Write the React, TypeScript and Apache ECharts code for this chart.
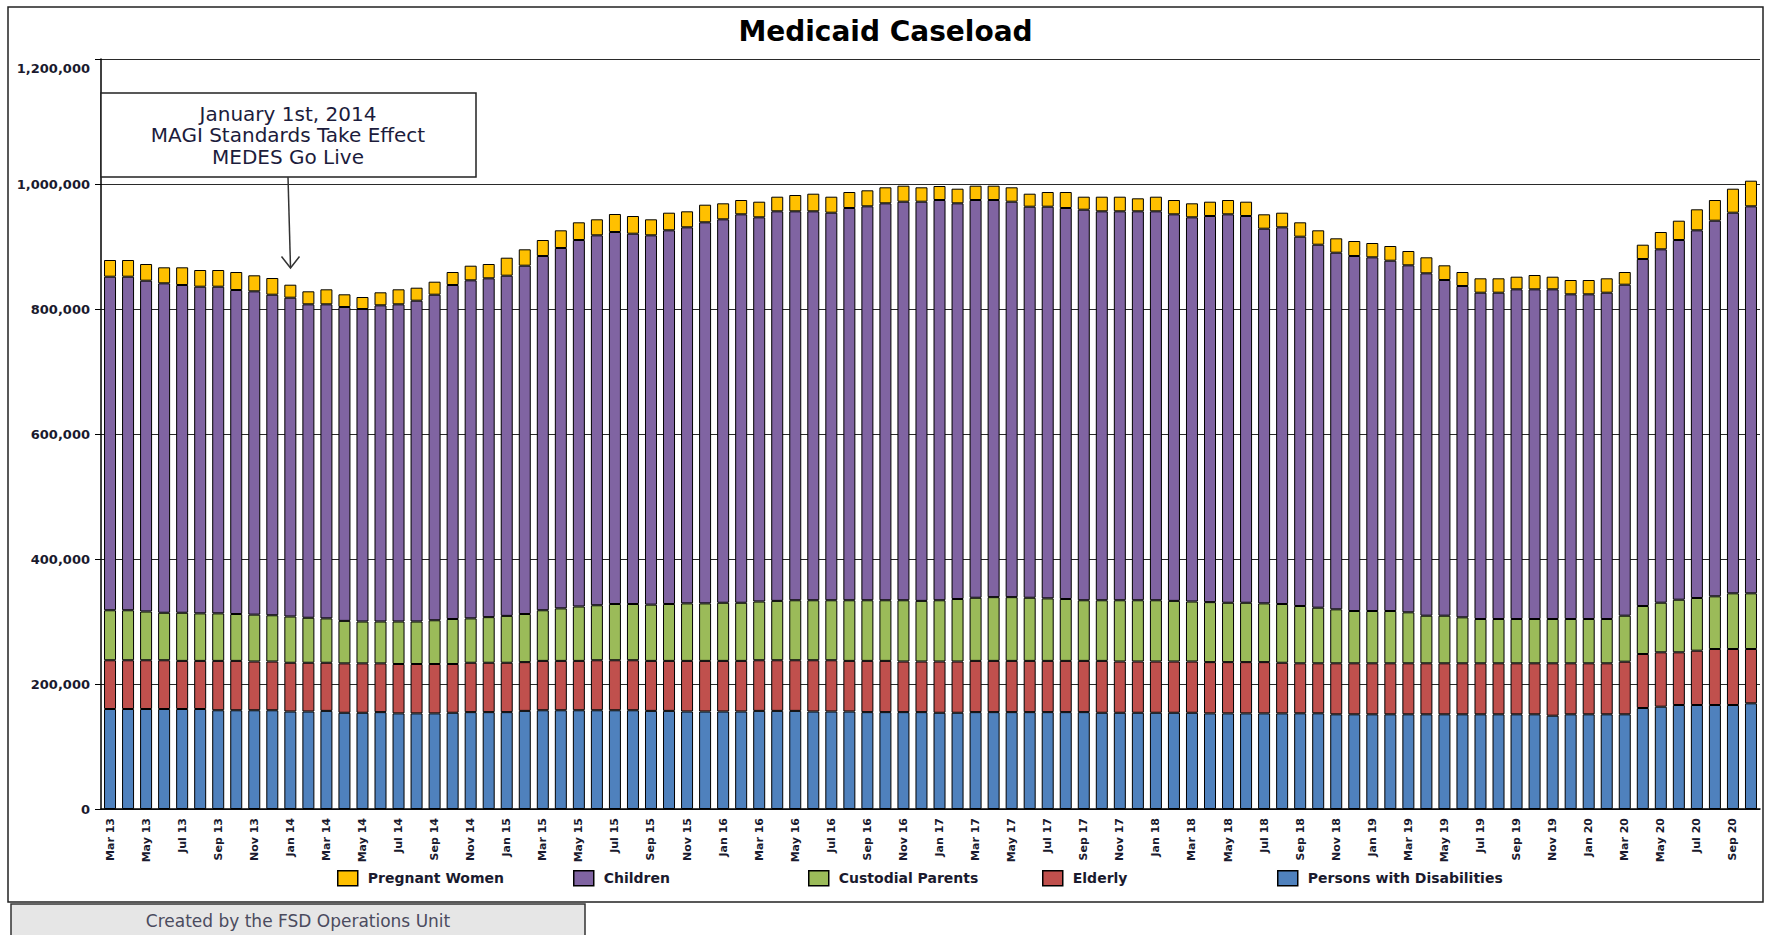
import React, { useEffect, useRef } from "react";
import * as echarts from "echarts";

const months = [
  "Mar 13","Apr 13","May 13","Jun 13","Jul 13","Aug 13","Sep 13","Oct 13","Nov 13","Dec 13",
  "Jan 14","Feb 14","Mar 14","Apr 14","May 14","Jun 14","Jul 14","Aug 14","Sep 14","Oct 14","Nov 14","Dec 14",
  "Jan 15","Feb 15","Mar 15","Apr 15","May 15","Jun 15","Jul 15","Aug 15","Sep 15","Oct 15","Nov 15","Dec 15",
  "Jan 16","Feb 16","Mar 16","Apr 16","May 16","Jun 16","Jul 16","Aug 16","Sep 16","Oct 16","Nov 16","Dec 16",
  "Jan 17","Feb 17","Mar 17","Apr 17","May 17","Jun 17","Jul 17","Aug 17","Sep 17","Oct 17","Nov 17","Dec 17",
  "Jan 18","Feb 18","Mar 18","Apr 18","May 18","Jun 18","Jul 18","Aug 18","Sep 18","Oct 18","Nov 18","Dec 18",
  "Jan 19","Feb 19","Mar 19","Apr 19","May 19","Jun 19","Jul 19","Aug 19","Sep 19","Oct 19","Nov 19","Dec 19",
  "Jan 20","Feb 20","Mar 20","Apr 20","May 20","Jun 20","Jul 20","Aug 20","Sep 20","Oct 20"
];

const disabilities = [
  160000,160000,160000,160000,160000,160000,158000,158000,158000,158000,
  156000,156000,157000,154000,154000,155000,153000,153000,153000,154000,155000,155000,
  155000,157000,158000,158000,158000,158000,158000,158000,157000,157000,156000,156000,
  156000,156000,157000,157000,157000,156000,156000,156000,155000,155000,155000,155000,
  154000,154000,155000,155000,155000,155000,155000,155000,155000,154000,154000,154000,
  154000,154000,154000,153000,153000,153000,153000,153000,153100,153100,151500,151500,
  151500,151500,151500,151500,151500,151500,151500,151500,151500,151500,149300,151500,
  151500,151500,151500,161600,163700,166400,166400,166400,166400,169100
];

const elderly = [
  78000,78000,78000,78000,77000,77000,79000,79000,78000,78000,
  78000,78000,77000,79000,79000,78000,79000,79000,79000,78000,79000,79000,
  79000,78000,79000,79000,79000,80000,80000,80000,80000,80000,81000,81000,
  81000,81000,81000,81000,81000,82000,82000,81000,82000,82000,81000,81000,
  82000,82000,82000,82000,82000,82000,82000,82000,82000,83000,82000,82000,
  82000,82000,82000,82000,82000,82000,82000,81000,80000,80000,81600,81600,
  81600,81600,81600,81600,81600,81600,81600,81600,81600,81600,83800,81600,
  81600,81600,84200,86400,87000,84300,86900,89600,89600,86900
];

const custodialParents = [
  80000,80000,78000,76000,77000,76000,76000,75000,75000,74000,
  74000,72000,71000,68000,67000,67000,68000,68000,70000,72000,71000,73000,
  75000,77000,81000,84000,87000,88000,90000,90000,90000,91000,92000,92000,
  93000,93000,94000,95000,96000,96000,96000,97000,97000,97000,98000,97000,
  98000,100000,101000,102000,102000,101000,100000,99000,97000,97000,98000,98000,
  98000,97000,96000,96000,95000,95000,94000,94000,91700,89000,86400,83700,
  83700,83700,81600,76200,76200,73600,70900,70900,70900,70900,70900,70900,
  70900,70900,73600,76800,79400,84200,84300,84300,89100,89100
];

const children = [
  533700,533700,529300,527100,524400,522700,522700,518400,517300,512900,
  510100,501500,502500,502200,500000,505900,507500,513300,520900,534400,540900,542100,
  544300,557300,566800,576600,586400,591900,595200,592500,590900,597900,601700,609700,
  613500,621500,614700,623300,622300,622300,620100,627600,630300,635100,637700,638700,
  640400,633100,636400,635400,632700,625700,626700,625600,624900,622300,622300,622300,
  622300,618500,614700,617800,621500,618800,599500,602700,590900,580800,570600,568000,
  565900,560500,555200,547800,537100,530100,522100,522100,527500,527500,527500,519500,
  519500,522100,529600,555200,565400,575500,588300,601000,609000,619200
];

const pregnantWomen = [
  26700,26700,26700,25600,28300,26700,26700,28800,25600,26700,
  20800,20800,24000,20300,19200,20800,24000,20800,20800,20800,23400,22900,
  28800,26200,25600,28300,28300,25600,28800,28300,25600,28200,25600,28200,
  25600,22900,25000,23400,26100,28200,25600,25600,25600,25600,25600,23000,
  22400,23400,22900,22900,23000,20800,23500,25600,20800,23400,23400,20800,
  23400,22900,22400,22900,22900,22900,23000,23400,23000,23000,23000,24000,
  22900,23500,22900,25600,23500,22400,23000,23000,20200,22900,20200,22900,
  22900,23000,20300,22900,27700,30900,33600,33100,38400,41000
];

const yTicks = { min: 0, max: 1200000, interval: 200000 };

const seriesDefs = [
  { name: "Persons with Disabilities", data: disabilities, color: "#4F81BD" },
  { name: "Elderly", data: elderly, color: "#C0504D" },
  { name: "Custodial Parents", data: custodialParents, color: "#9BBB59" },
  { name: "Children", data: children, color: "#8064A2" },
  { name: "Pregnant Women", data: pregnantWomen, color: "#FFC000" },
];

const legendOrder = ["Pregnant Women", "Children", "Custodial Parents", "Elderly", "Persons with Disabilities"];
const legendLeft = [337, 573, 808, 1042, 1277];

const FONT = "'DejaVu Sans', Verdana, sans-serif";
const TXT = "#1a1a2e";

export default function App() {
  const ref = useRef<HTMLDivElement>(null);
  useEffect(() => {
    if (!ref.current) return;
    const chart = echarts.init(ref.current, null, { renderer: "svg" });
    const fmt = (v: number) => v.toLocaleString("en-US");
    chart.setOption({
      animation: false,
      backgroundColor: "#ffffff",
      title: {
        text: "Medicaid Caseload",
        left: "center",
        top: 17,
        padding: 0,
        textStyle: { fontFamily: FONT, fontSize: 28, fontWeight: "bold", color: "#000" },
      },
      grid: { left: 101, right: 11, top: 59, bottom: 126, containLabel: false },
      legend: legendOrder.map((name, i) => ({
        data: [name],
        left: legendLeft[i],
        top: 870,
        padding: 0,
        icon: "rect",
        itemWidth: 20,
        itemHeight: 15,
        itemStyle: { borderColor: "#000", borderWidth: 1.5 },
        textStyle: { fontFamily: FONT, fontSize: 14, fontWeight: "bold", color: TXT, padding: [0, 0, 0, 5] },
        selectedMode: false,
      })),
      xAxis: {
        type: "category",
        data: months,
        axisLine: { lineStyle: { color: "#000", width: 1.5 } },
        axisTick: { show: false },
        axisLabel: {
          rotate: 90,
          interval: 1,
          margin: 9,
          fontFamily: FONT,
          fontSize: 11,
          fontWeight: "bold",
          color: TXT,
        },
      },
      yAxis: {
        type: "value",
        min: yTicks.min,
        max: yTicks.max,
        interval: yTicks.interval,
        axisLine: { show: true, lineStyle: { color: "#000", width: 1.5 } },
        axisTick: { show: true, length: 6, lineStyle: { color: "#000" } },
        splitLine: { lineStyle: { color: "#2a2a2a", width: 1 } },
        axisLabel: {
          margin: 11,
          fontFamily: FONT,
          fontSize: 13,
          fontWeight: "bold",
          color: TXT,
          formatter: (v: number) => (v === yTicks.max ? "{top|" + fmt(v) + "}" : fmt(v)),
          rich: {
            top: { padding: [18, 0, 0, 0], fontFamily: FONT, fontSize: 13, fontWeight: "bold", color: TXT },
          },
        },
      },
      series: seriesDefs.map((s) => ({
        name: s.name,
        type: "bar",
        stack: "total",
        barWidth: 12,
        data: s.data,
        itemStyle: { color: s.color, borderColor: "#000", borderWidth: 1 },
      })),
      graphic: [
        { type: "rect", shape: { x: 8, y: 7, width: 1755, height: 895 }, style: { fill: "none", stroke: "#222", lineWidth: 1.5 }, z: 100 },
        { type: "rect", shape: { x: 101, y: 93, width: 375, height: 84 }, style: { fill: "#fff", stroke: "#222", lineWidth: 1.5 }, z: 100 },
        { type: "text", x: 288, y: 114, style: { text: "January 1st, 2014", font: "20px " + FONT, fill: "#1c1c3c", textAlign: "center", textVerticalAlign: "middle" }, z: 101 },
        { type: "text", x: 288, y: 135, style: { text: "MAGI Standards Take Effect", font: "20px " + FONT, fill: "#1c1c3c", textAlign: "center", textVerticalAlign: "middle" }, z: 101 },
        { type: "text", x: 288, y: 157, style: { text: "MEDES Go Live", font: "20px " + FONT, fill: "#1c1c3c", textAlign: "center", textVerticalAlign: "middle" }, z: 101 },
        { type: "line", shape: { x1: 288, y1: 177, x2: 290.5, y2: 267 }, style: { stroke: "#333", lineWidth: 1.5 }, z: 101 },
        { type: "polyline", shape: { points: [[281.5, 256.5], [290.5, 268], [299.5, 256.5]] }, style: { fill: "none", stroke: "#333", lineWidth: 1.5 }, z: 101 },
        { type: "rect", shape: { x: 11, y: 904, width: 574, height: 40 }, style: { fill: "#e6e6e6", stroke: "#333", lineWidth: 1.5 }, z: 100 },
        { type: "text", x: 298, y: 921, style: { text: "Created by the FSD Operations Unit", font: "17px " + FONT, fill: "#4b4b5e", textAlign: "center", textVerticalAlign: "middle" }, z: 101 },
      ],
    });
    return () => chart.dispose();
  }, []);
  return <div ref={ref} style={{ position: "absolute", left: 0, top: 0, width: 1771, height: 935 }} />;
}
